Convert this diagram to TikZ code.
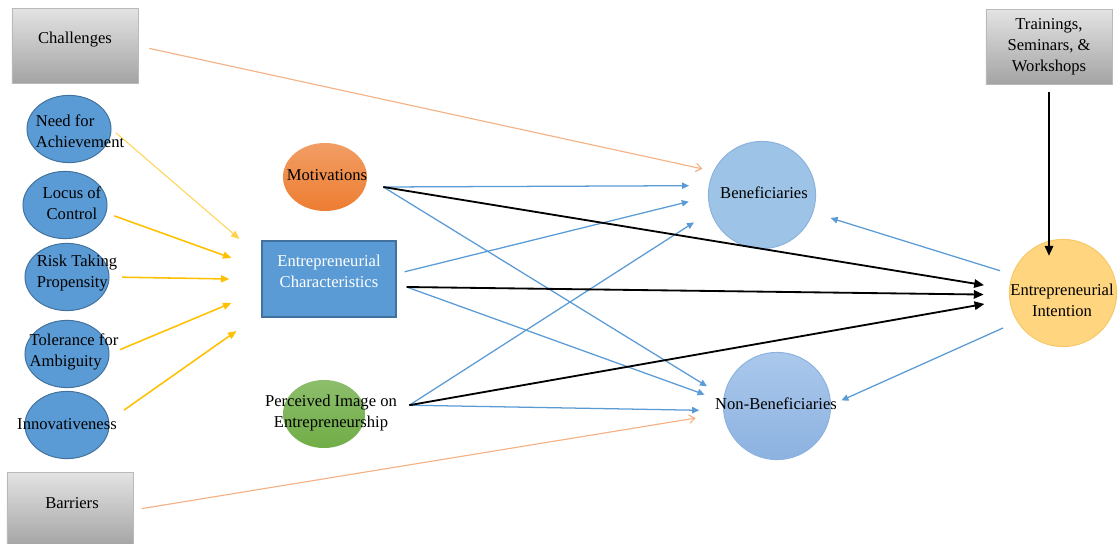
\documentclass[tikz,border=0pt]{standalone}
\usepackage{fontspec}
\setmainfont{Liberation Serif}
\usetikzlibrary{shapes.geometric,arrows.meta}
\definecolor{traitfill}{HTML}{5B9BD5}
\definecolor{traitline}{HTML}{41719C}
\definecolor{motfill}{HTML}{ED7D31}
\definecolor{imgfill}{HTML}{70AD47}
\definecolor{benfill}{HTML}{9DC3E6}
\definecolor{benline}{HTML}{8CB3DE}
\definecolor{nonbtop}{HTML}{ABC8EC}
\definecolor{nonbbot}{HTML}{8CB2E0}
\definecolor{intfill}{HTML}{FFD580}
\definecolor{intline}{HTML}{F6C866}
\definecolor{goldarrow}{HTML}{FFC000}
\definecolor{tanarrow}{HTML}{F4B183}
\definecolor{bluearrow}{HTML}{5B9BD5}
\tikzset{
  every node/.style={font=\fontsize{11.8}{15}\selectfont},
  greybox/.style={rectangle, top color=gray!22, bottom color=gray!72, draw=gray!55,
    minimum width=3.15cm, minimum height=1.875cm, align=center},
  trait/.style={ellipse, fill=traitfill, draw=traitline, line width=0.7pt,
    minimum width=2.1cm, minimum height=1.68cm, inner sep=0pt},
  oval/.style={ellipse, draw=none, minimum width=2.1cm, minimum height=1.7cm, inner sep=0pt},
  bubble/.style={circle, minimum size=2.68cm, inner sep=0pt, line width=0.7pt},
  goldarr/.style={goldarrow, line width=1.1pt, -{Triangle[length=6pt,width=5pt]}},
  bluearr/.style={bluearrow, line width=0.9pt, -{Triangle[length=5pt,width=4.5pt]}},
  blackarr/.style={black, line width=1.3pt, -{Triangle[length=7pt,width=6pt]}},
  tanarr/.style={tanarrow, line width=0.8pt, -{Straight Barb[length=4pt,width=6pt]}}
}
\begin{document}
\begin{tikzpicture}[x=0.025cm,y=-0.025cm]
  \useasboundingbox (0,0) rectangle (1118,544);
  \node[greybox] (chal) at (75,46) {};
  \node (chal-t) at (75,40) {Challenges};
  \node[greybox] (bar) at (70,510) {};
  \node (bar-t) at (72,503) {Barriers};
  \node[greybox] (trn) at (1049,47) {Trainings,\\Seminars, \&\\Workshops};

  \node[trait] (nfa) at (69,129) {};
  \node[trait] (loc) at (65,205) {};
  \node[trait] (rtp) at (67,277) {};
  \node[trait] (tfa) at (67,354) {};
  \node[trait] (inn) at (67,425) {};
  \node[align=left] (nfa-t) at (80,131) {Need for\\Achievement};
  \node[align=center] (loc-t) at (72,203) {Locus of\\Control};
  \node[align=left] (rtp-t) at (77,273) {Risk Taking\\Propensity};
  \node[align=left] (tfa-t) at (74,352) {Tolerance for\\Ambiguity};
  \node (inn-t) at (67,424) {Innovativeness};

  \node[oval, top color=motfill!75!white, bottom color=motfill] (mot) at (325,177) {};
  \node (mot-t) at (327,175) {Motivations};
  \node[rectangle, fill=traitfill, draw=traitline, line width=0.8pt,
    minimum width=3.35cm, minimum height=1.9cm] (ec) at (329,279) {};
  \node[white, align=center] (ec-t) at (329,271) {Entrepreneurial\\Characteristics};
  \node[oval, minimum width=2.05cm, top color=imgfill!80!white, bottom color=imgfill] (pi) at (324,414) {};
  \node[align=center] (pi-t) at (331,413) {Perceived Image on\\Entrepreneurship};

  \node[bubble, fill=benfill, draw=benline] (ben) at (762,195) {};
  \node (ben-t) at (764,193) {Beneficiaries};
  \node[bubble, top color=nonbtop, bottom color=nonbbot, draw=benline] (nonb) at (777,406) {};
  \node (nonb-t) at (776,404) {Non-Beneficiaries};
  \node[bubble, fill=intfill, draw=intline] (int) at (1063,293) {};
  \node[align=center] (int-t) at (1062,300) {Entrepreneurial\\Intention};

  \coordinate (mot-out) at ([xshift=0.4cm,yshift=-0.25cm]mot.east);
  \coordinate (ec-up) at ([xshift=0.2cm,yshift=0.18cm]ec.east);
  \coordinate (ec-dn) at ([xshift=0.25cm,yshift=-0.2cm]ec.east);
  \coordinate (pi-out) at ([xshift=1.1cm,yshift=0.22cm]pi.east);
  \coordinate (in1) at ([xshift=-0.55cm,yshift=1.0cm]ec.west);
  \coordinate (in2) at ([xshift=-0.75cm,yshift=0.525cm]ec.west);
  \coordinate (in3) at ([xshift=-0.8cm]ec.west);
  \coordinate (in4) at ([xshift=-0.75cm,yshift=-0.6cm]ec.west);
  \coordinate (in5) at ([xshift=-0.625cm,yshift=-1.3cm]ec.west);

  \begin{scope}[goldarr]
    \draw[goldarrow!70, line width=0.7pt, shorten <=4pt] (nfa.east) -- (in1);
    \draw[shorten <=6pt] (loc.-11) -- (in2);
    \draw[shorten <=9pt] (rtp.east) -- (in3);
    \draw[shorten <=8pt] (tfa.east) -- (in4);
    \draw[shorten <=13pt] (inn.6) -- (in5);
  \end{scope}
  \begin{scope}[tanarr]
    \draw[shorten <=8pt, shorten >=8pt] (chal.east) -- (ben.154);
    \draw[shorten <=6pt, shorten >=20pt] (bar.east) -- (nonb.188);
  \end{scope}
  \begin{scope}[bluearr]
    \draw[shorten >=14pt] (mot-out) -- (ben.170);
    \draw[shorten >=14pt] (mot-out) -- (nonb.170);
    \draw[shorten >=14pt] (ec-up) -- (ben.182);
    \draw[shorten >=14pt] (ec-dn) -- (nonb.175);
    \draw[shorten >=14pt] (pi-out) -- (ben.198);
    \draw[shorten >=17pt] (pi-out) -- (nonb.185);
    \draw[shorten <=9pt, shorten >=13pt] (int.160) -- (ben.-19);
    \draw[shorten <=11pt, shorten >=8pt] (int.212) -- (nonb.1);
  \end{scope}
  \begin{scope}[blackarr, shorten >=18pt]
    \draw (mot-out) -- (int.176);
    \draw (ec-dn) -- (int.182);
    \draw (pi-out) -- (int.187);
    \draw[shorten <=5pt, shorten >=-12pt] (trn.south) -- (trn.south |- int.north);
  \end{scope}
\end{tikzpicture}
\end{document}
